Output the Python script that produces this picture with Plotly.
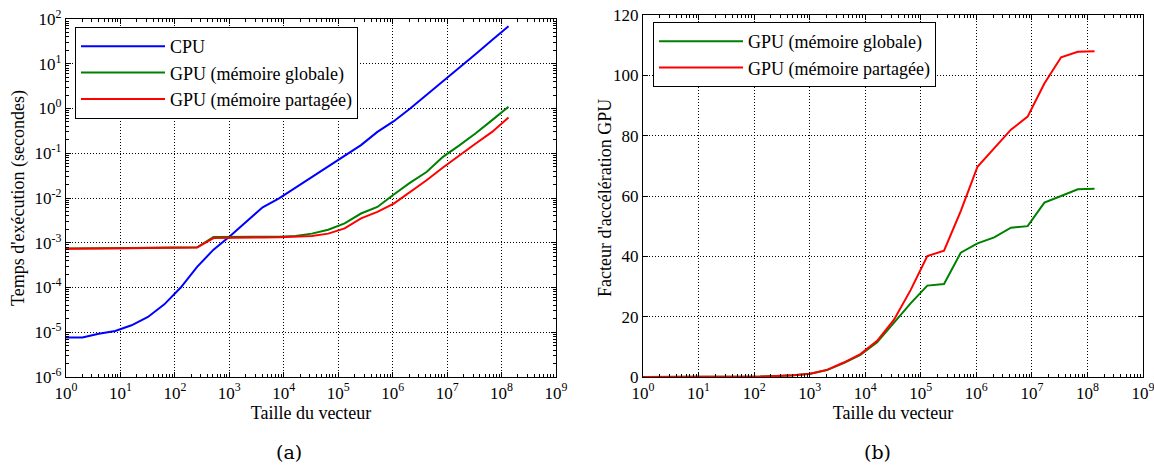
import plotly.graph_objects as go

# ---------------- data ----------------
sizes = [1, 2, 4, 8, 16, 32, 64, 128, 256, 512, 1024, 2048, 4096, 8192,
         16384, 32768, 65536, 131072, 262144, 524288, 1048576, 2097152,
         4194304, 8388608, 16777216, 33554432, 67108864, 134217728]

time_cpu = [7.6e-6, 7.6e-6, 9.3e-6, 1.07e-5, 1.43e-5, 2.2e-5, 4.2e-5, 1.0e-4,
            2.9e-4, 7.0e-4, 1.4e-3, 3.0e-3, 6.2e-3, 9.8e-3, 1.7e-2, 2.9e-2,
            5.1e-2, 8.8e-2, 0.152, 0.30, 0.52, 1.0, 2.0, 4.0, 8.2, 16.5, 34.0, 69.0]

time_gpu_global = [7.4e-4, 7.4e-4, 7.5e-4, 7.6e-4, 7.6e-4, 7.7e-4, 7.7e-4, 7.8e-4,
                   7.9e-4, 1.35e-3, 1.35e-3, 1.35e-3, 1.36e-3, 1.37e-3, 1.42e-3,
                   1.6e-3, 1.95e-3, 2.7e-3, 4.5e-3, 6.3e-3, 1.2e-2, 2.2e-2, 3.8e-2,
                   8.3e-2, 0.15, 0.28, 0.55, 1.1]

time_gpu_shared = [7.3e-4, 7.3e-4, 7.4e-4, 7.5e-4, 7.5e-4, 7.6e-4, 7.6e-4, 7.7e-4,
                   7.8e-4, 1.27e-3, 1.3e-3, 1.3e-3, 1.31e-3, 1.32e-3, 1.35e-3,
                   1.42e-3, 1.6e-3, 2.1e-3, 3.5e-3, 4.9e-3, 7.5e-3, 1.35e-2, 2.5e-2,
                   4.8e-2, 9.0e-2, 0.165, 0.30, 0.63]

speedup_global = [0.01, 0.01, 0.012, 0.014, 0.019, 0.029, 0.055, 0.13, 0.37, 0.55,
                  1.05, 2.3, 4.6, 7.3, 11.5, 17.8, 24.4, 30.3, 30.8, 41.2, 44.3,
                  46.3, 49.5, 50.0, 57.8, 60.0, 62.2, 62.4]

speedup_shared = [0.01, 0.01, 0.012, 0.014, 0.019, 0.029, 0.055, 0.13, 0.37, 0.56,
                  1.1, 2.35, 4.8, 7.6, 12.0, 18.9, 28.8, 40.1, 41.9, 55.0, 69.7,
                  75.8, 82.0, 86.3, 97.3, 106.0, 107.8, 108.0]

x_exponents = [0, 1, 2, 3, 4, 5, 6, 7, 8, 9]
y_exponents_left = [-6, -5, -4, -3, -2, -1, 0, 1, 2]
y_ticks_right = [0, 20, 40, 60, 80, 100, 120]

name_cpu = "CPU"
name_global = "GPU (mémoire globale)"
name_shared = "GPU (mémoire partagée)"

# ---------------- styles ----------------
BLUE, GREEN, RED = "#0000ff", "#008000", "#ff0000"
SERIF = "Liberation Serif"
LW = 2

fig = go.Figure()

fig.add_trace(go.Scatter(x=sizes, y=time_cpu, mode="lines", name=name_cpu,
                         line=dict(color=BLUE, width=LW), xaxis="x", yaxis="y",
                         legend="legend"))
fig.add_trace(go.Scatter(x=sizes, y=time_gpu_global, mode="lines", name=name_global,
                         line=dict(color=GREEN, width=LW), xaxis="x", yaxis="y",
                         legend="legend"))
fig.add_trace(go.Scatter(x=sizes, y=time_gpu_shared, mode="lines", name=name_shared,
                         line=dict(color=RED, width=LW), xaxis="x", yaxis="y",
                         legend="legend"))

fig.add_trace(go.Scatter(x=sizes, y=speedup_global, mode="lines", name=name_global,
                         line=dict(color=GREEN, width=LW), xaxis="x2", yaxis="y2",
                         legend="legend2"))
fig.add_trace(go.Scatter(x=sizes, y=speedup_shared, mode="lines", name=name_shared,
                         line=dict(color=RED, width=LW), xaxis="x2", yaxis="y2",
                         legend="legend2"))

W, H = 1154, 466


def px_x(p):
    return p / W


def px_y(p):
    return (H - p) / H


minor_log = [k * 10 ** n for n in range(0, 9) for k in range(2, 10)]
minor_log_y = [k * 10.0 ** n for n in range(-6, 2) for k in range(2, 10)]

tickfont = dict(family=SERIF, size=17, color="black")
titlefont = dict(family=SERIF, size=18, color="black")

common = dict(showline=True, linecolor="black", linewidth=1.3, mirror="allticks",
              ticks="inside", ticklen=5, tickcolor="black", tickwidth=1,
              showgrid=True, gridcolor="black", griddash="1px,2px", gridwidth=1,
              zeroline=False, tickfont=tickfont, automargin=False,
              ticklabeloverflow="allow")

xlog_ticktext = ["10<sup>%d</sup>" % e for e in x_exponents]
xlog_tickvals = [10 ** e for e in x_exponents]

fig.update_layout(
    width=W, height=H,
    margin=dict(l=0, r=0, t=0, b=0),
    paper_bgcolor="white", plot_bgcolor="white",
    showlegend=True,
    xaxis=dict(domain=[px_x(66), px_x(556)], anchor="y", type="log", range=[0, 9],
               tickmode="array", tickvals=xlog_tickvals, ticktext=xlog_ticktext,
               minor=dict(ticks="inside", ticklen=3, tickcolor="black",
                          tickmode="array", tickvals=minor_log, showgrid=False),
               title=dict(text="Taille du vecteur", font=titlefont, standoff=4),
               **common),
    yaxis=dict(domain=[px_y(377), px_y(19)], anchor="x", type="log", range=[-6, 2],
               tickmode="array", tickvals=[10.0 ** e for e in y_exponents_left],
               ticktext=["10<sup>%d</sup>" % e for e in y_exponents_left],
               minor=dict(ticks="inside", ticklen=3, tickcolor="black",
                          tickmode="array", tickvals=minor_log_y, showgrid=False),
               **common),
    xaxis2=dict(domain=[px_x(643), px_x(1143)], anchor="y2", type="log", range=[0, 9],
                tickmode="array", tickvals=xlog_tickvals, ticktext=xlog_ticktext,
                minor=dict(ticks="inside", ticklen=3, tickcolor="black",
                           tickmode="array", tickvals=minor_log, showgrid=False),
                title=dict(text="Taille du vecteur", font=titlefont, standoff=4),
                **common),
    yaxis2=dict(domain=[px_y(377), px_y(15)], anchor="x2", range=[0, 120],
                tickmode="array", tickvals=y_ticks_right,
                ticktext=[str(v) for v in y_ticks_right],
                **common),
    legend=dict(x=px_x(75), y=px_y(27), xanchor="left", yanchor="top",
                bgcolor="white", bordercolor="black", borderwidth=1,
                font=dict(family=SERIF, size=18, color="black"),
                itemwidth=84),
    legend2=dict(x=px_x(653), y=px_y(22), xanchor="left", yanchor="top",
                 bgcolor="white", bordercolor="black", borderwidth=1,
                 font=dict(family=SERIF, size=18, color="black"),
                 itemwidth=84),
    annotations=[
        dict(text="Temps d'exécution (secondes)", xref="paper", yref="paper",
             x=px_x(18), y=px_y(198), textangle=-90, showarrow=False,
             xanchor="center", yanchor="middle", font=titlefont),
        dict(text="Facteur d'accélération GPU", xref="paper", yref="paper",
             x=px_x(605), y=px_y(198), textangle=-90, showarrow=False,
             xanchor="center", yanchor="middle", font=titlefont),
        dict(text="(a)", xref="paper", yref="paper", x=px_x(289), y=px_y(452),
             showarrow=False, xanchor="center", yanchor="middle",
             font=dict(family="DejaVu Serif", size=19, color="black")),
        dict(text="(b)", xref="paper", yref="paper", x=px_x(877), y=px_y(452),
             showarrow=False, xanchor="center", yanchor="middle",
             font=dict(family="DejaVu Serif", size=19, color="black")),
    ],
)

fig.write_html(
    "out.html",
    config={"displayModeBar": False},
    post_script="document.body.style.margin='0';document.body.style.padding='0';",
)
